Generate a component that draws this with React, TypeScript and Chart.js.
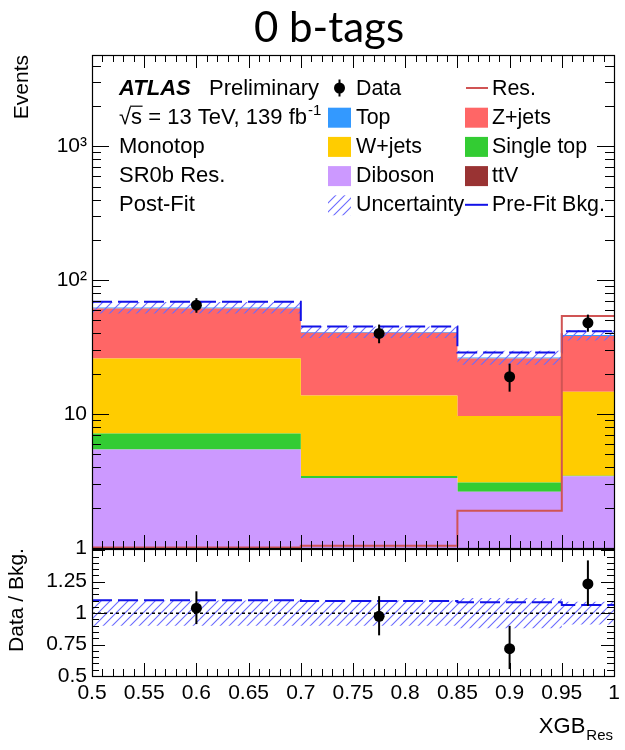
import React, { useEffect, useRef } from 'react';
import { Chart, registerables } from 'chart.js';

Chart.register(...registerables);

const FONT = '"Liberation Sans", Arial, Helvetica, sans-serif';
const TITLE_FONT = 'Lato, "Open Sans", sans-serif';

// ---------------- data ----------------
const binEdges = [0.5, 0.7, 0.85, 0.95, 1.0];
const ttvEvents = [0.05, 0.03, 0.03, 0.04];
const dibosonEvents = [5.4, 3.3, 2.6, 3.4];
const singleTopEvents = [1.7, 0.12, 0.46, 0.02];
const wjetsEvents = [18.9, 10.3, 6.6, 11.2];
const zjetsEvents = [35.5, 26.7, 16.3, 23.7];
const topEvents = [1.0, 0.6, 0.5, 0.6];
const dataEvents = [65, 40, 19, 48];
const dataErrUp = [8.4, 6.6, 4.8, 7.3];
const dataErrDown = [7.9, 6.2, 4.3, 6.8];
const bkgRelUncertainty = [0.1, 0.1, 0.12, 0.09];
const preFitBkgEvents = [69, 45, 28.8, 41.5];
const resSignalEvents = [1.01, 1.04, 1.9, 54];

const mainYTicks = [1, 10, 100, 1000];
const mainYTickLabels = ['1', '10', '10²', '10³'];
const ratioYTicks = [0.5, 0.75, 1, 1.25];
const ratioYTickLabels = ['0.5', '0.75', '1', '1.25'];
const xTicks = [0.5, 0.55, 0.6, 0.65, 0.7, 0.75, 0.8, 0.85, 0.9, 0.95, 1];
const xTickLabels = ['0.5', '0.55', '0.6', '0.65', '0.7', '0.75', '0.8', '0.85', '0.9', '0.95', '1'];

const stackNames = ['ttV', 'Diboson', 'Single top', 'W+jets', 'Z+jets', 'Top'];
const stackColors = ['#993333', '#cc99ff', '#33cc33', '#ffcc00', '#ff6666', '#3399ff'];
const RES_COLOR = '#d05454';
const PREFIT_COLOR = '#1212e8';
const HATCH_COLOR = '#6a6aff';

const titleText = '0 b-tags';
const atlasLines = ['Monotop', 'SR0b Res.', 'Post-Fit'];

// ---------------- helpers ----------------
const binCenters = binEdges.slice(0, -1).map((e, i) => (e + binEdges[i + 1]) / 2);

function stepPoints(values: number[]) {
  return binEdges.map((x, i) => ({ x, y: values[Math.min(i, values.length - 1)] }));
}

function makeHatch(ctx: CanvasRenderingContext2D) {
  const s = 9;
  const c = document.createElement('canvas');
  c.width = s;
  c.height = s;
  const g = c.getContext('2d')!;
  g.strokeStyle = HATCH_COLOR;
  g.lineWidth = 1.1;
  g.beginPath();
  g.moveTo(0, s);
  g.lineTo(s, 0);
  g.moveTo(-s / 2, s / 2);
  g.lineTo(s / 2, -s / 2);
  g.moveTo(s / 2, s * 1.5);
  g.lineTo(s * 1.5, s / 2);
  g.stroke();
  return ctx.createPattern(c, 'repeat')!;
}

const layers = [ttvEvents, dibosonEvents, singleTopEvents, wjetsEvents, zjetsEvents, topEvents];
const cumulative: number[][] = [];
{
  let run = [0, 0, 0, 0];
  layers.forEach((l) => {
    run = run.map((r, i) => r + l[i]);
    cumulative.push(run);
  });
}
const totalBkg = cumulative[cumulative.length - 1];

function zeroPad(s: any) {
  s.paddingTop = 0;
  s.paddingBottom = 0;
  s.paddingLeft = 0;
  s.paddingRight = 0;
}

function drawXTicks(ctx: CanvasRenderingContext2D, xs: any, top: number, bottom: number, major: number, minor: number) {
  const n = Math.round((xs.max - xs.min) / 0.01);
  ctx.beginPath();
  for (let i = 0; i <= n; i++) {
    const v = xs.min + i * 0.01;
    const px = Math.round(xs.getPixelForValue(v)) + 0.5;
    const len = i % 5 === 0 ? major : minor;
    ctx.moveTo(px, bottom);
    ctx.lineTo(px, bottom - len);
    ctx.moveTo(px, top);
    ctx.lineTo(px, top + len);
  }
  ctx.stroke();
}

// ---------------- main chart ----------------
function mainDecorPlugin(hatch: CanvasPattern) {
  return {
    id: 'mainDecor',
    afterDatasetsDraw(chart: any) {
      const { ctx, scales } = chart;
      const xs = scales.x;
      const ys = scales.y;
      ctx.save();
      ctx.strokeStyle = '#000';
      ctx.lineWidth = 2;
      binCenters.forEach((c, i) => {
        const px = xs.getPixelForValue(c);
        ctx.beginPath();
        ctx.moveTo(px, ys.getPixelForValue(dataEvents[i] + dataErrUp[i]));
        ctx.lineTo(px, ys.getPixelForValue(dataEvents[i] - dataErrDown[i]));
        ctx.stroke();
      });
      ctx.restore();
    },
    afterDraw(chart: any) {
      const { ctx, chartArea: ca, scales } = chart;
      const xs = scales.x;
      const ys = scales.y;
      ctx.save();
      ctx.strokeStyle = '#000';
      ctx.lineWidth = 1;
      // ticks
      drawXTicks(ctx, xs, ca.top, ca.bottom, 13, 7);
      ctx.beginPath();
      for (let e = 0; e <= 4; e++) {
        for (let k = 1; k <= 9; k++) {
          const v = k * Math.pow(10, e);
          if (v < ys.min || v > ys.max) continue;
          const py = Math.round(ys.getPixelForValue(v)) + 0.5;
          const len = k === 1 ? 17 : 9;
          ctx.moveTo(ca.left, py);
          ctx.lineTo(ca.left + len, py);
          ctx.moveTo(ca.right, py);
          ctx.lineTo(ca.right - len, py);
        }
      }
      ctx.stroke();
      // frame
      ctx.lineWidth = 1.2;
      ctx.strokeRect(Math.round(ca.left) + 0.5, Math.round(ca.top) + 0.5, Math.round(ca.right - ca.left), Math.round(ca.bottom - ca.top));

      ctx.fillStyle = '#000';
      // title
      ctx.font = `42px ${TITLE_FONT}`;
      ctx.textAlign = 'center';
      ctx.textBaseline = 'alphabetic';
      ctx.fillText(titleText, 329, 42);

      // y title
      ctx.save();
      ctx.font = `21px ${FONT}`;
      ctx.translate(28, 55);
      ctx.rotate(-Math.PI / 2);
      ctx.textAlign = 'right';
      ctx.fillText('Events', 0, 0);
      ctx.restore();

      // ATLAS block
      const rb = [0, 1, 2, 3, 4].map((i) => 94.5 + 29.2 * i);
      ctx.textAlign = 'left';
      ctx.font = `italic bold 22px ${FONT}`;
      ctx.fillText('ATLAS', 119, rb[0]);
      ctx.font = `22px ${FONT}`;
      ctx.fillText('Preliminary', 209, rb[0]);
      const sqrtW = ctx.measureText('√').width;
      const sW = ctx.measureText('s').width;
      const line2 = '√s = 13 TeV, 139 fb';
      ctx.fillText(line2, 119, rb[1]);
      ctx.beginPath();
      ctx.lineWidth = 1.2;
      ctx.moveTo(119 + sqrtW - 1, rb[1] - 17.5);
      ctx.lineTo(119 + sqrtW + sW + 0.5, rb[1] - 17.5);
      ctx.stroke();
      const l2w = ctx.measureText(line2).width;
      ctx.font = `15px ${FONT}`;
      ctx.fillText('-1', 119 + l2w + 1, rb[1] - 9);
      ctx.font = `22px ${FONT}`;
      atlasLines.forEach((t, i) => ctx.fillText(t, 119, rb[i + 2]));

      // legend
      const c1 = 328;
      const c1t = 356;
      const c2 = 465;
      const c2t = 492;
      const bw = 23;
      const bh = 20;
      const box = (x: number, row: number, fill: any) => {
        ctx.fillStyle = fill;
        ctx.fillRect(x, rb[row] - 16, bw, bh);
      };
      // Data marker
      ctx.strokeStyle = '#000';
      ctx.lineWidth = 2;
      ctx.beginPath();
      ctx.moveTo(c1 + 11.5, rb[0] - 15);
      ctx.lineTo(c1 + 11.5, rb[0] + 2);
      ctx.stroke();
      ctx.fillStyle = '#000';
      ctx.beginPath();
      ctx.arc(c1 + 11.5, rb[0] - 6.5, 5.5, 0, Math.PI * 2);
      ctx.fill();
      // Res line
      ctx.strokeStyle = RES_COLOR;
      ctx.beginPath();
      ctx.moveTo(c2 + 1, rb[0] - 6.5);
      ctx.lineTo(c2 + bw, rb[0] - 6.5);
      ctx.stroke();
      box(c1, 1, stackColors[5]);
      box(c2, 1, stackColors[4]);
      box(c1, 2, stackColors[3]);
      box(c2, 2, stackColors[2]);
      box(c1, 3, stackColors[1]);
      box(c2, 3, stackColors[0]);
      box(c1, 4, hatch);
      ctx.strokeStyle = PREFIT_COLOR;
      ctx.beginPath();
      ctx.moveTo(c2, rb[4] - 6.5);
      ctx.lineTo(c2 + bw, rb[4] - 6.5);
      ctx.stroke();

      ctx.fillStyle = '#000';
      ctx.font = `21.4px ${FONT}`;
      const leftLabels = ['Data', 'Top', 'W+jets', 'Diboson', 'Uncertainty'];
      const rightLabels = ['Res.', 'Z+jets', 'Single top', 'ttV', 'Pre-Fit Bkg.'];
      leftLabels.forEach((t, i) => ctx.fillText(t, c1t, rb[i]));
      rightLabels.forEach((t, i) => ctx.fillText(t, c2t, rb[i]));
      ctx.restore();
    },
  };
}

function buildMain(canvas: HTMLCanvasElement) {
  const ctx = canvas.getContext('2d')!;
  const hatch = makeHatch(ctx);
  const stackSets = cumulative.map((vals, k) => ({
    label: stackNames[k],
    data: stepPoints(vals),
    stepped: true,
    borderColor: 'rgba(0,0,0,0)',
    borderWidth: 0,
    backgroundColor: stackColors[k],
    fill: k === 0 ? 'start' : '-1',
    pointRadius: 0,
    order: 20,
  }));
  const bandUp = totalBkg.map((t, i) => t * (1 + bkgRelUncertainty[i]));
  const bandDown = totalBkg.map((t, i) => t * (1 - bkgRelUncertainty[i]));
  const datasets: any[] = [
    ...stackSets,
    {
      label: 'UncUp',
      data: stepPoints(bandUp),
      stepped: true,
      borderColor: 'rgba(0,0,0,0)',
      borderWidth: 0,
      fill: false,
      pointRadius: 0,
      order: 5,
    },
    {
      label: 'Uncertainty',
      data: stepPoints(bandDown),
      stepped: true,
      borderColor: 'rgba(0,0,0,0)',
      borderWidth: 0,
      backgroundColor: hatch,
      fill: '-1',
      pointRadius: 0,
      order: 5,
    },
    {
      label: 'Pre-Fit Bkg.',
      data: stepPoints(preFitBkgEvents),
      stepped: true,
      borderColor: PREFIT_COLOR,
      borderWidth: 2,
      borderDash: [20, 6],
      fill: false,
      pointRadius: 0,
      order: 3,
    },
    {
      label: 'Res.',
      data: stepPoints(resSignalEvents),
      stepped: true,
      borderColor: RES_COLOR,
      borderWidth: 2,
      fill: false,
      pointRadius: 0,
      order: 2,
    },
    {
      label: 'Data',
      data: binCenters.map((x, i) => ({ x, y: dataEvents[i] })),
      showLine: false,
      pointRadius: 5.5,
      pointBackgroundColor: '#000',
      pointBorderColor: '#000',
      pointBorderWidth: 0,
      fill: false,
      order: 1,
    },
  ];
  return new Chart(canvas, {
    type: 'line',
    data: { datasets },
    options: {
      responsive: false,
      animation: false,
      events: [],
      layout: { padding: { top: 55, right: 11, bottom: 12, left: 0 } },
      plugins: { legend: { display: false }, title: { display: false }, tooltip: { enabled: false } },
      scales: {
        x: { type: 'linear', min: 0.5, max: 1, display: false },
        y: {
          type: 'logarithmic',
          min: 1,
          max: 4800,
          afterBuildTicks: (s: any) => {
            s.ticks = mainYTicks.map((v) => ({ value: v }));
          },
          afterFit: (s: any) => {
            s.width = 92;
            zeroPad(s);
          },
          grid: { display: false, drawTicks: false },
          border: { display: false },
          ticks: {
            font: { family: FONT, size: 21 },
            color: '#000',
            padding: 5,
            autoSkip: false,
            callback: (_v: any, i: number) => mainYTickLabels[i],
          },
        },
      },
    } as any,
    plugins: [mainDecorPlugin(hatch)],
  } as any);
}

// ---------------- ratio chart ----------------
function ratioDecorPlugin() {
  return {
    id: 'ratioDecor',
    afterDatasetsDraw(chart: any) {
      const { ctx, scales } = chart;
      const xs = scales.x;
      const ys = scales.y;
      ctx.save();
      ctx.strokeStyle = '#000';
      ctx.lineWidth = 2;
      binCenters.forEach((c, i) => {
        const px = xs.getPixelForValue(c);
        const r = dataEvents[i] / totalBkg[i];
        ctx.beginPath();
        ctx.moveTo(px, ys.getPixelForValue(r + dataErrUp[i] / totalBkg[i]));
        ctx.lineTo(px, ys.getPixelForValue(r - dataErrDown[i] / totalBkg[i]));
        ctx.stroke();
      });
      ctx.restore();
    },
    afterDraw(chart: any) {
      const { ctx, chartArea: ca, scales } = chart;
      const xs = scales.x;
      const ys = scales.y;
      ctx.save();
      ctx.strokeStyle = '#000';
      ctx.lineWidth = 1;
      drawXTicks(ctx, xs, ca.top, ca.bottom, 13, 7);
      ctx.beginPath();
      const n = Math.floor((ys.max - ys.min) / 0.05 + 1e-6);
      for (let i = 0; i <= n; i++) {
        const v = ys.min + i * 0.05;
        const py = Math.round(ys.getPixelForValue(v)) + 0.5;
        const len = i % 5 === 0 ? 13 : 7;
        ctx.moveTo(ca.left, py);
        ctx.lineTo(ca.left + len, py);
        ctx.moveTo(ca.right, py);
        ctx.lineTo(ca.right - len, py);
      }
      ctx.stroke();
      ctx.lineWidth = 1.2;
      ctx.strokeRect(Math.round(ca.left) + 0.5, Math.round(ca.top) + 0.5, Math.round(ca.right - ca.left), Math.round(ca.bottom - ca.top));

      ctx.fillStyle = '#000';
      // y title
      ctx.save();
      ctx.font = `21px ${FONT}`;
      ctx.translate(23, 60);
      ctx.rotate(-Math.PI / 2);
      ctx.textAlign = 'center';
      ctx.fillText('Data / Bkg.', 0, 0);
      ctx.restore();

      // x title
      ctx.textAlign = 'left';
      ctx.font = `15px ${FONT}`;
      const wRes = ctx.measureText('Res').width;
      ctx.font = `22px ${FONT}`;
      const wX = ctx.measureText('XGB').width;
      const right = 613;
      ctx.fillText('XGB', right - wRes - wX - 1, 193);
      ctx.font = `15px ${FONT}`;
      ctx.fillText('Res', right - wRes, 200);
      ctx.restore();
    },
  };
}

function buildRatio(canvas: HTMLCanvasElement) {
  const ctx = canvas.getContext('2d')!;
  const hatch = makeHatch(ctx);
  const ratio = dataEvents.map((d, i) => d / totalBkg[i]);
  const preFitRatio = preFitBkgEvents.map((p, i) => p / totalBkg[i]);
  const bandUp = bkgRelUncertainty.map((u) => 1 + u);
  const bandDown = bkgRelUncertainty.map((u) => 1 - u);
  const unity = totalBkg.map((t) => t / t);
  const datasets: any[] = [
    {
      label: 'UncUp',
      data: stepPoints(bandUp),
      stepped: true,
      borderColor: 'rgba(0,0,0,0)',
      borderWidth: 0,
      fill: false,
      pointRadius: 0,
      order: 5,
    },
    {
      label: 'Uncertainty',
      data: stepPoints(bandDown),
      stepped: true,
      borderColor: 'rgba(0,0,0,0)',
      borderWidth: 0,
      backgroundColor: hatch,
      fill: '-1',
      pointRadius: 0,
      order: 5,
    },
    {
      label: 'Unity',
      data: stepPoints(unity),
      borderColor: '#000',
      borderWidth: 1.5,
      borderDash: [3, 3],
      fill: false,
      pointRadius: 0,
      order: 4,
    },
    {
      label: 'Pre-Fit Bkg.',
      data: stepPoints(preFitRatio),
      stepped: true,
      borderColor: PREFIT_COLOR,
      borderWidth: 2,
      borderDash: [20, 6],
      fill: false,
      pointRadius: 0,
      order: 3,
    },
    {
      label: 'Data',
      data: binCenters.map((x, i) => ({ x, y: ratio[i] })),
      showLine: false,
      pointRadius: 5.5,
      pointBackgroundColor: '#000',
      pointBorderColor: '#000',
      pointBorderWidth: 0,
      fill: false,
      order: 1,
    },
  ];
  return new Chart(canvas, {
    type: 'line',
    data: { datasets },
    options: {
      responsive: false,
      animation: false,
      events: [],
      layout: { padding: { top: 9, right: 11, bottom: 0, left: 0 } },
      plugins: { legend: { display: false }, title: { display: false }, tooltip: { enabled: false } },
      scales: {
        x: {
          type: 'linear',
          min: 0.5,
          max: 1,
          afterBuildTicks: (s: any) => {
            s.ticks = xTicks.map((v) => ({ value: v }));
          },
          afterFit: (s: any) => {
            s.height = 74;
            zeroPad(s);
          },
          grid: { display: false, drawTicks: false },
          border: { display: false },
          ticks: {
            font: { family: FONT, size: 21 },
            color: '#000',
            padding: 5,
            maxRotation: 0,
            autoSkip: false,
            callback: (_v: any, i: number) => xTickLabels[i],
          },
        },
        y: {
          type: 'linear',
          min: 0.5,
          max: 1.51,
          afterBuildTicks: (s: any) => {
            s.ticks = ratioYTicks.map((v) => ({ value: v }));
          },
          afterFit: (s: any) => {
            s.width = 92;
            zeroPad(s);
          },
          grid: { display: false, drawTicks: false },
          border: { display: false },
          ticks: {
            font: { family: FONT, size: 21 },
            color: '#000',
            padding: 5,
            autoSkip: false,
            callback: (_v: any, i: number) => ratioYTickLabels[i],
          },
        },
      },
    } as any,
    plugins: [ratioDecorPlugin()],
  } as any);
}

export default function App() {
  const mainRef = useRef<HTMLCanvasElement | null>(null);
  const ratioRef = useRef<HTMLCanvasElement | null>(null);

  useEffect(() => {
    const m = buildMain(mainRef.current!);
    const r = buildRatio(ratioRef.current!);
    return () => {
      m.destroy();
      r.destroy();
    };
  }, []);

  return (
    <div style={{ position: 'absolute', left: 0, top: 0, width: 625, height: 750, background: '#fff' }}>
      <canvas ref={mainRef} width={625} height={560} style={{ position: 'absolute', left: 0, top: 0, width: 625, height: 560 }} />
      <canvas ref={ratioRef} width={625} height={210} style={{ position: 'absolute', left: 0, top: 540, width: 625, height: 210 }} />
    </div>
  );
}
